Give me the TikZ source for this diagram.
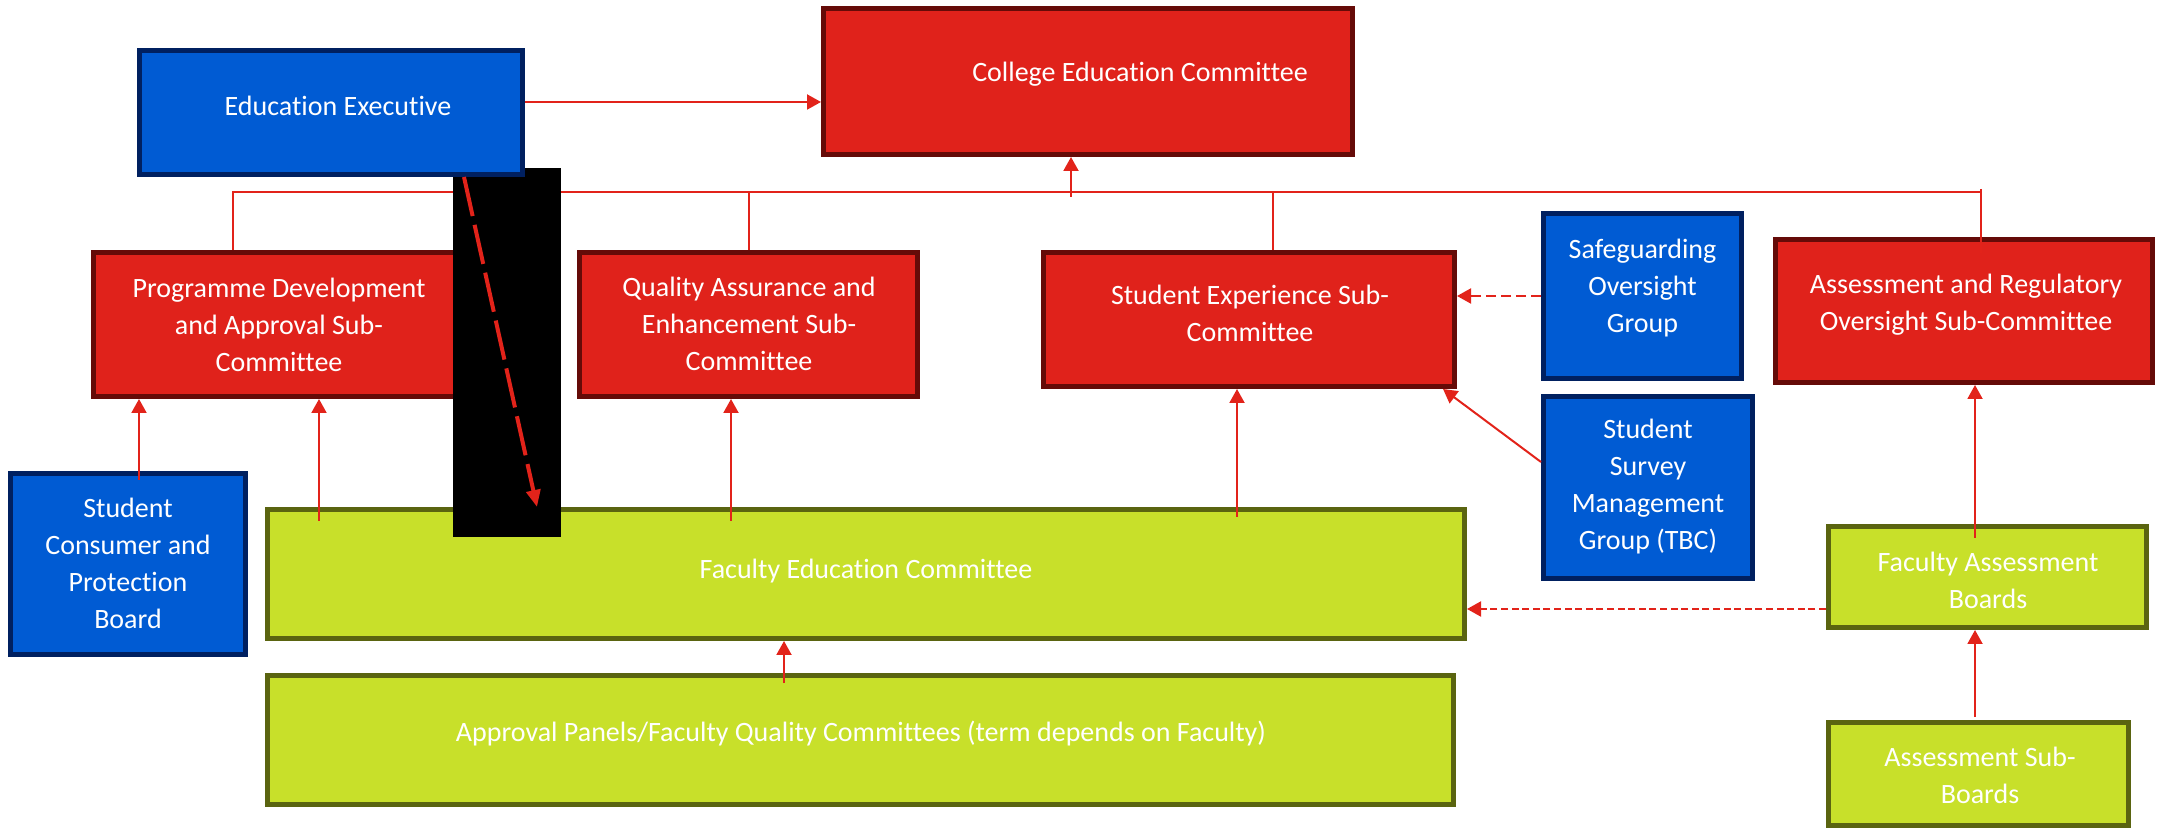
\documentclass[tikz,border=0pt]{standalone}
\usepackage{fontspec}
\setmainfont{Carlito}[Ligatures=NoCommon]
\usetikzlibrary{arrows.meta}
\definecolor{redfill}{HTML}{E0221B}
\definecolor{rededge}{HTML}{650B08}
\definecolor{bluefill}{HTML}{005BD3}
\definecolor{blueedge}{HTML}{002060}
\definecolor{greenfill}{HTML}{C8E02A}
\definecolor{greenedge}{HTML}{5A6410}
\definecolor{linkred}{HTML}{E2231A}

\begin{document}
\begin{tikzpicture}[x=0.5pt,y=-0.5pt,
  box/.style={draw, rectangle, line width=2.5pt, inner sep=0pt},
  redbox/.style={box, fill=redfill, draw=rededge},
  bluebox/.style={box, fill=bluefill, draw=blueedge},
  greenbox/.style={box, fill=greenfill, draw=greenedge},
  lbl/.style={text=white, align=center, inner sep=0pt,
              font=\fontsize{14}{18.5}\selectfont},
  conn/.style={draw=linkred, line width=1pt},
  arr/.style={conn, -{Triangle[length=7pt,width=7.5pt]}},
  dasharr/.style={arr, dash pattern=on 5pt off 2.5pt},
  finearr/.style={arr, dash pattern=on 3.5pt off 1.8pt},
]
\useasboundingbox (0,0) rectangle (2158,833);

% committees (red)
\node[redbox, minimum width=264.5pt, minimum height=73pt] (CEC) at (1088,81.5) {};
\node[lbl] (CECt) at (1140,74) {College Education Committee};
\node[redbox, minimum width=185.5pt, minimum height=72pt] (PDA) at (279,324.5) {};
\node[lbl] (PDAt) at (279,325) {Programme Development\\and Approval Sub-\\Committee};
\node[redbox, minimum width=169pt, minimum height=72pt] (QAE) at (748.5,324.5) {};
\node[lbl] (QAEt) at (749,324) {Quality Assurance and\\Enhancement Sub-\\Committee};
\node[redbox, minimum width=205.5pt, minimum height=67pt] (SES) at (1249,319.5) {};
\node[lbl] (SESt) at (1250,313) {Student Experience Sub-\\Committee};
\node[redbox, minimum width=188.5pt, minimum height=71.5pt] (ARO) at (1964,311) {};
\node[lbl] (AROt) at (1966,305) {Assessment and Regulatory\\Oversight Sub-Committee};

% groups and boards (blue)
\node[bluebox, minimum width=99pt, minimum height=82.5pt] (SOG) at (1642.5,296) {};
\node[lbl] (SOGt) at (1642.5,288) {Safeguarding\\Oversight\\Group};
\node[bluebox, minimum width=104.5pt, minimum height=91pt] (SSMG) at (1648,487.5) {};
\node[lbl] (SSMGt) at (1648,487) {Student\\Survey\\Management\\Group (TBC)};
\node[bluebox, minimum width=117.5pt, minimum height=90.5pt] (SCP) at (128,564) {};
\node[lbl] (SCPt) at (128,563) {Student\\Consumer and\\Protection\\Board};

% faculty level (green)
\node[greenbox, minimum width=598.5pt, minimum height=64.5pt] (FEC) at (866,574) {};
\node[lbl] (FECt) at (866,571) {Faculty Education Committee};
\node[greenbox, minimum width=593pt, minimum height=64.5pt] (AP) at (860.5,740) {};
\node[lbl] (APt) at (861,734) {Approval Panels/Faculty Quality Committees (term depends on Faculty)};
\node[greenbox, minimum width=159pt, minimum height=50.5pt] (FAB) at (1987.5,577) {};
\node[lbl] (FABt) at (1988,580) {Faculty Assessment\\Boards};
\node[greenbox, minimum width=150pt, minimum height=51.5pt] (ASB) at (1978.5,774) {};
\node[lbl] (ASBt) at (1980,775) {Assessment Sub-\\Boards};

% reporting bus into the College Education Committee
\coordinate (busL) at (233,192);
\coordinate (busR) at (1981,192);
\draw[conn, line width=1.2pt] (PDA.north -| busL) -- (busL) -- (busR);
\draw[conn] ([yshift=1.5pt]busR) -- ([yshift=-8pt]ARO.north -| busR);
\draw[conn] (QAE.north |- busL) -- (QAE.north);
\draw[conn] (SES.north -| 1273,0) -- (1273,192);
\draw[arr] (1071,197) -- (CEC.south -| 1071,0);

% upward reporting lines
\draw[arr] ([yshift=-4.5pt]SCP.north -| 139,0) -- (PDA.south -| 139,0);
\draw[arr] ([yshift=-7pt]FEC.north -| 319,0) -- (PDA.south -| 319,0);
\draw[arr] ([yshift=-7pt]FEC.north -| 731,0) -- (QAE.south -| 731,0);
\draw[arr] ([yshift=-5pt]FEC.north -| 1237,0) -- (SES.south -| 1237,0);
\draw[arr] ([yshift=-5pt]AP.north -| 784,0) -- (FEC.south -| 784,0);
\draw[arr] ([yshift=-7pt]FAB.north -| 1975,0) -- (ARO.south -| 1975,0);
\draw[arr] ([yshift=1.5pt]ASB.north -| 1975,0) -- (FAB.south -| 1975,0);
\draw[arr] (SSMG.west |- 0,462) -- (SES.south -| 1443,0);

% advisory (dashed) links
\draw[dasharr] (SOG.west) -- (SES.east |- SOG.west);
\draw[finearr] (FAB.west |- 0,609) -- (FEC.east |- 0,609);

% masking block
\fill[black] (453,168) rectangle (561,537);

% executive
\node[bluebox, minimum width=191.5pt, minimum height=62pt] (EE) at (331,112.5) {};
\node[lbl] (EEt) at (338,106) {Education Executive};
\draw[arr] (EE.east |- 0,102) -- (CEC.west |- 0,102);
\coordinate (tip) at (537,507);
\draw[draw=linkred, line width=2pt, dash pattern=on 20pt off 4.5pt,
      -{Triangle[length=8.5pt,width=7pt]}] (EE.south -| 464,0) -- (tip);
\end{tikzpicture}
\end{document}
